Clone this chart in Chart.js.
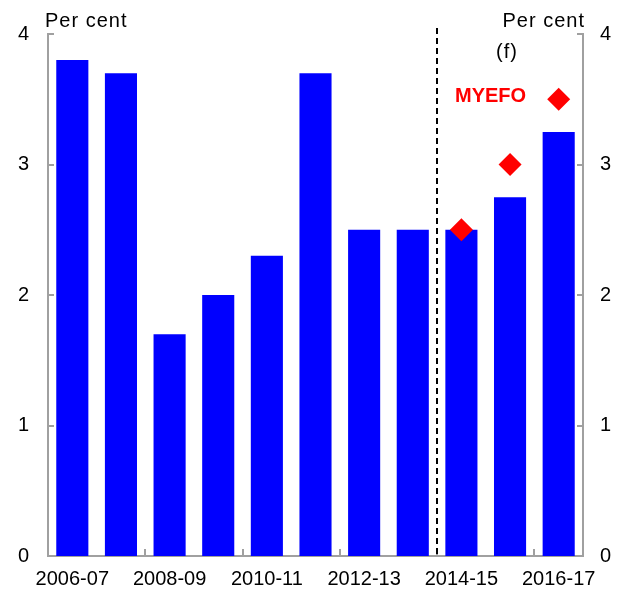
<!DOCTYPE html>
<html>
<head>
<meta charset="utf-8">
<script src="https://cdn.jsdelivr.net/npm/chart.js@4/dist/chart.umd.min.js"></script>
<style>
  html, body { margin: 0; padding: 0; background: #fff; }
  #wrap { width: 620px; height: 592px; }
</style>
</head>
<body>
<div id="wrap"><canvas id="growthChart"></canvas></div>
<script>
var years = ['2006-07', '2007-08', '2008-09', '2009-10', '2010-11', '2011-12',
             '2012-13', '2013-14', '2014-15', '2015-16', '2016-17'];
var actual = [3.8, 3.7, 1.7, 2.0, 2.3, 3.7, 2.5, 2.5, 2.5, 2.75, 3.25];
var myefo = [null, null, null, null, null, null, null, null, 2.5, 3.0, 3.5];
var yTicks = [0, 1, 2, 3, 4];
var forecastStart = 8; // first forecast year index

var axisGrey = '#a0a0a0';
var fontFamily = '"Liberation Sans", Arial, sans-serif';

// inward ticks, dashed forecast line and text labels
var decorPlugin = {
    id: 'decor',
    afterDatasetsDraw: function (chart) {
        var ctx = chart.ctx;
        var area = chart.chartArea;
        var x = chart.scales.x;
        var y = chart.scales.y;
        ctx.save();

        ctx.strokeStyle = axisGrey;
        ctx.lineWidth = 2;
        yTicks.forEach(function (v) {
            var py = Math.round(y.getPixelForValue(v));
            ctx.beginPath();
            ctx.moveTo(area.left, py);
            ctx.lineTo(area.left + 6, py);
            ctx.moveTo(area.right, py);
            ctx.lineTo(area.right - 6, py);
            ctx.stroke();
        });
        for (var i = 2; i < years.length; i += 2) {
            var px = Math.round((x.getPixelForValue(i - 1) + x.getPixelForValue(i)) / 2);
            ctx.beginPath();
            ctx.moveTo(px, area.bottom);
            ctx.lineTo(px, area.bottom - 7);
            ctx.stroke();
        }

        // forecast divider
        var dx = Math.round((x.getPixelForValue(forecastStart - 1) + x.getPixelForValue(forecastStart)) / 2);
        ctx.strokeStyle = '#000';
        ctx.lineWidth = 2;
        ctx.setLineDash([6, 4]);
        ctx.beginPath();
        ctx.moveTo(dx, area.top - 6);
        ctx.lineTo(dx, area.bottom);
        ctx.stroke();
        ctx.setLineDash([]);

        ctx.fillStyle = '#000';
        ctx.font = '20px ' + fontFamily;
        ctx.letterSpacing = '1px';
        ctx.textBaseline = 'alphabetic';
        ctx.textAlign = 'left';
        ctx.fillText('Per cent', area.left - 3, area.top - 7);
        ctx.textAlign = 'right';
        ctx.fillText('Per cent', area.right + 2, area.top - 7);
        ctx.textAlign = 'center';
        ctx.textBaseline = 'middle';
        ctx.fillText('(f)', area.right - 76, area.top + 18);

        ctx.fillStyle = '#ff0000';
        ctx.font = 'bold 20px ' + fontFamily;
        ctx.letterSpacing = '0px';
        ctx.textAlign = 'left';
        ctx.fillText('MYEFO', area.left + 407, area.top + 62);
        ctx.restore();
    }
};

var ctx = document.getElementById('growthChart').getContext('2d');
new Chart(ctx, {
    type: 'bar',
    data: {
        labels: years,
        datasets: [{
            type: 'line',
            label: 'MYEFO',
            data: myefo,
            showLine: false,
            pointStyle: 'rectRot',
            pointRadius: 11.5,
            pointBackgroundColor: '#ff0000',
            pointBorderWidth: 0,
            order: 1
        }, {
            label: 'Actual',
            data: actual,
            backgroundColor: '#0000ff',
            barPercentage: 0.66,
            categoryPercentage: 1,
            order: 2
        }]
    },
    options: {
        responsive: true,
        maintainAspectRatio: false,
        animation: false,
        layout: { padding: { top: 34, left: 0, right: 0, bottom: 0 } },
        plugins: {
            legend: { display: false },
            tooltip: { enabled: false }
        },
        scales: {
            x: {
                grid: { display: false, drawTicks: false },
                border: { display: true, color: axisGrey, width: 2 },
                afterFit: function (scale) { scale.height = 36; },
                ticks: {
                    autoSkip: false,
                    maxRotation: 0,
                    padding: 11,
                    color: '#000',
                    font: { size: 20, family: fontFamily },
                    callback: function (val, i) { return i % 2 === 0 ? years[i] : ''; }
                }
            },
            y: {
                position: 'left',
                min: 0,
                max: 4,
                grid: { display: false, drawTicks: false },
                border: { display: true, color: axisGrey, width: 2 },
                afterFit: function (scale) { scale.width = 48; },
                ticks: {
                    stepSize: 1,
                    padding: 19,
                    color: '#000',
                    font: { size: 20, family: fontFamily }
                }
            },
            y2: {
                position: 'right',
                min: 0,
                max: 4,
                grid: { display: false, drawTicks: false },
                border: { display: true, color: axisGrey, width: 2 },
                afterFit: function (scale) { scale.width = 37; },
                ticks: {
                    stepSize: 1,
                    padding: 17,
                    color: '#000',
                    font: { size: 20, family: fontFamily }
                }
            }
        }
    },
    plugins: [decorPlugin]
});
</script>
</body>
</html>
